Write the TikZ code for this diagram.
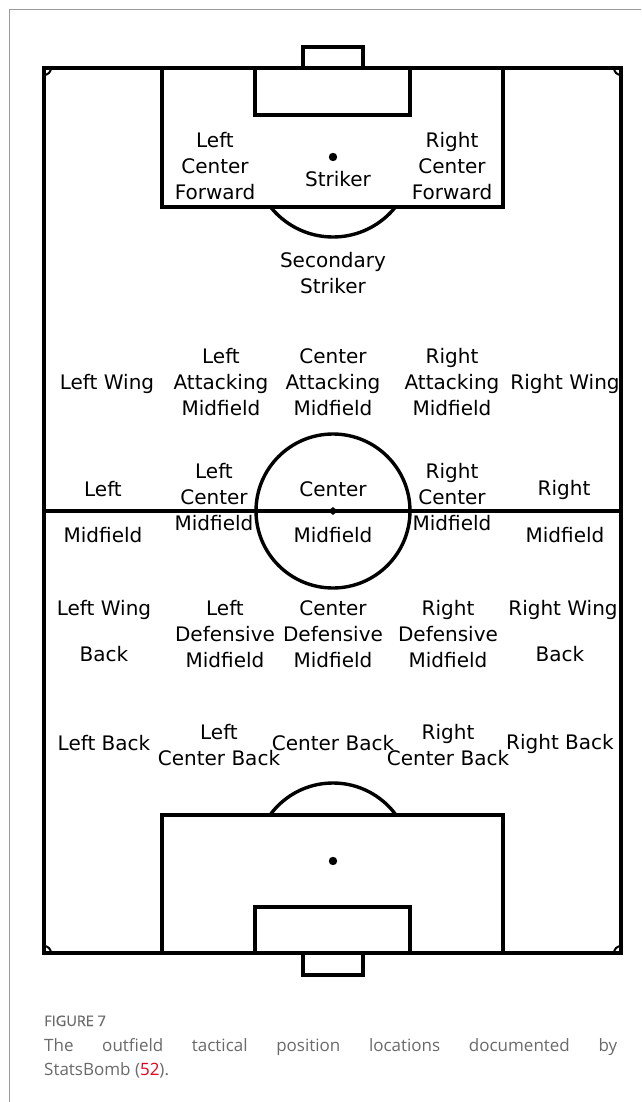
\documentclass[tikz,border=0pt]{standalone}
\usepackage{fontspec}
\setmainfont{DejaVu Sans}
\newfontfamily\capfont{Open Sans}
\newfontfamily\figfont[FakeBold=0.6]{Open Sans}
\usetikzlibrary{shapes.geometric}
\definecolor{capgray}{HTML}{6A6A6A}
\definecolor{refred}{HTML}{E2001A}
\definecolor{framegray}{HTML}{9A9A9A}
\tikzset{
  pitch/.style={line width=3.4pt, black, line join=miter},
  poslabel/.style={font=\fontsize{20}{26}\selectfont, align=center, inner sep=0pt, text=black},
  capline/.style={font=\capfont\fontsize{17}{24}\selectfont, text=capgray, inner sep=0pt},
}
\begin{document}
\begin{tikzpicture}[x=1pt,y=-1pt]
\useasboundingbox (0,0) rectangle (641,1102);
% panel frame
\draw[framegray, line width=1pt] (9,1102) -- (9,10) -- (641,10);
% pitch
\draw[pitch] (44,68) rectangle (621,953);
\draw[pitch] (44,511) -- (621,511);
\draw[pitch] (333,511) circle[radius=77];
\node[diamond, fill=black, inner sep=0pt, minimum width=10pt, minimum height=8pt] (cspot) at (333,511) {};
% top end
\draw[pitch] (303,68) -- (303,47) -- (363,47) -- (363,68);
\draw[pitch] (255,68) rectangle (410,115);
\draw[pitch] (162,68) rectangle (503,207);
\fill (333,157) circle[radius=4.2];
\begin{scope}
\clip (162,207) rectangle (503,260);
\draw[pitch] (333,157) circle[radius=80];
\end{scope}
% bottom end
\draw[pitch] (303,953) -- (303,975) -- (363,975) -- (363,953);
\draw[pitch] (255,907) rectangle (410,953);
\draw[pitch] (162,815) rectangle (503,953);
\fill (333,861) circle[radius=4.2];
\begin{scope}
\clip (162,760) rectangle (503,815);
\draw[pitch] (333,861) circle[radius=78];
\end{scope}
% corner arcs
\draw[line width=2pt] (51,68) arc[start angle=0,end angle=90,radius=7];
\draw[line width=2pt] (621,75) arc[start angle=90,end angle=180,radius=7];
\draw[line width=2pt] (44,946) arc[start angle=270,end angle=360,radius=7];
\draw[line width=2pt] (614,953) arc[start angle=180,end angle=270,radius=7];
% labels
\node[poslabel] (lcf) at (215,166) {Left\\Center\\Forward};
\node[poslabel] (st) at (338,179) {Striker};
\node[poslabel] (rcf) at (452,166) {Right\\Center\\Forward};
\node[poslabel] (ss) at (333,273) {Secondary\\Striker};
\node[poslabel] (lw) at (107,384) {Left Wing};
\node[poslabel] (lam) at (221,382) {Left\\Attacking\\Midfield};
\node[poslabel] (cam) at (333,382) {Center\\Attacking\\Midfield};
\node[poslabel] (ram) at (452,382) {Right\\Attacking\\Midfield};
\node[poslabel] (rw) at (565,384) {Right Wing};
\node[poslabel] (lm1) at (103,489) {Left};
\node[poslabel] (lm2) at (103,535) {Midfield};
\node[poslabel] (lcm) at (214,497) {Left\\Center\\Midfield};
\node[poslabel] (cm1) at (333,489) {Center};
\node[poslabel] (cm2) at (333,535) {Midfield};
\node[poslabel] (rcm) at (452,497) {Right\\Center\\Midfield};
\node[poslabel] (rm1) at (564,490) {Right};
\node[poslabel] (rm2) at (565,535) {Midfield};
\node[poslabel] (lwb1) at (104,610) {Left Wing};
\node[poslabel] (lwb2) at (104,654) {Back};
\node[poslabel] (ldm) at (225,634) {Left\\Defensive\\Midfield};
\node[poslabel] (cdm) at (333,634) {Center\\Defensive\\Midfield};
\node[poslabel] (rdm) at (448,634) {Right\\Defensive\\Midfield};
\node[poslabel] (rwb1) at (563,610) {Right Wing};
\node[poslabel] (rwb2) at (560,654) {Back};
\node[poslabel] (lb) at (104,743) {Left Back};
\node[poslabel] (lcb) at (219,745) {Left\\Center Back};
\node[poslabel] (cb) at (333,743) {Center Back};
\node[poslabel] (rcb) at (448,745) {Right\\Center Back};
\node[poslabel] (rb) at (560,744) {Right Back};
% caption
\node[capline, font=\figfont\fontsize{14.5}{16}\selectfont, anchor=base west] (fig) at (44,1026) {FIGURE 7};
\node[capline, anchor=base west, text width=573pt, align=justify] (cap) at (44,1051)
  {The outfield tactical position locations documented by\linebreak StatsBomb (\textcolor{refred}{52}).};
\end{tikzpicture}
\end{document}
